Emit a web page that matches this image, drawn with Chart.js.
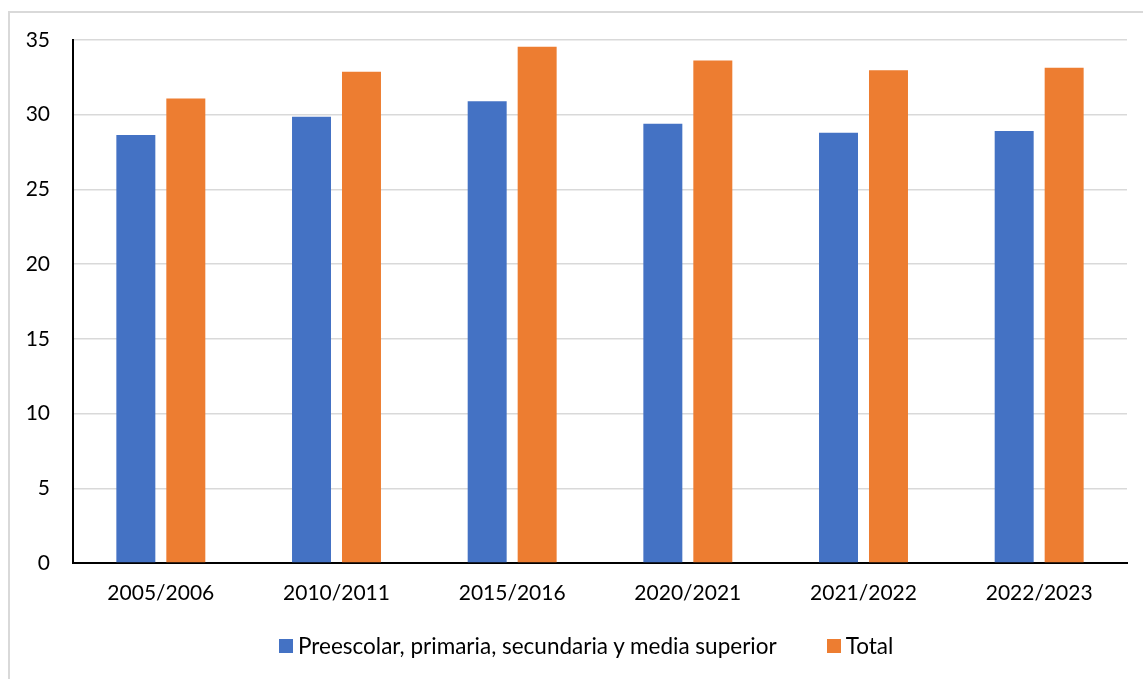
<!DOCTYPE html>
<html>
<head>
<meta charset="utf-8">
<script src="https://cdn.jsdelivr.net/npm/chart.js@4"></script>
<style>
  html, body { margin: 0; padding: 0; background: #fff; overflow: hidden; }
  #frame { position: absolute; left: 8px; top: 11px; width: 1200px; height: 720px;
           border: 2px solid #d9d9d9; box-sizing: border-box; }
  #wrap { position: absolute; left: 0; top: 0; width: 1143px; height: 679px; }
  #legend { position: absolute; top: 632px; left: 279px; display: flex; align-items: center;
            font-family: Lato, "Open Sans", sans-serif; font-size: 22.5px; color: #000; white-space: nowrap; }
  .item { display: flex; align-items: center; }
  .swatch { width: 14px; height: 14px; margin-right: 5px; }
</style>
</head>
<body>
<div id="frame"></div>
<div id="wrap"><canvas id="chart" width="1143" height="679"></canvas></div>
<div id="legend"></div>
<script>
// School years on the horizontal axis
const categories = ['2005/2006', '2010/2011', '2015/2016', '2020/2021', '2021/2022', '2022/2023'];

// Series
const basicLabel = 'Preescolar, primaria, secundaria y media superior';
const basicValues = [28.65, 29.87, 30.90, 29.40, 28.80, 28.91];

const totalLabel = 'Total';
const totalValues = [31.08, 32.87, 34.54, 33.62, 32.97, 33.15];

// Value axis
const yMin = 0;
const yMax = 35;
const yStep = 5;

const BLUE = '#4472C4';
const ORANGE = '#ED7D31';
const FONT = 'Lato, "Open Sans", sans-serif';

const datasets = [
  { label: basicLabel, data: basicValues, backgroundColor: BLUE },
  { label: totalLabel, data: totalValues, backgroundColor: ORANGE }
];

new Chart(document.getElementById('chart'), {
  type: 'bar',
  data: { labels: categories, datasets: datasets },
  options: {
    responsive: false,
    animation: false,
    devicePixelRatio: 1,
    datasets: { bar: { categoryPercentage: 0.569, barPercentage: 0.78 } },
    layout: { padding: { left: 0, top: 40, right: 16, bottom: 66 } },
    plugins: { legend: { display: false }, tooltip: { enabled: false } },
    scales: {
      x: {
        grid: { display: false, drawTicks: false },
        border: { display: true, color: '#000', width: 2 },
        ticks: { color: '#000', font: { family: FONT, size: 21 }, padding: 18, maxRotation: 0 },
        afterFit: (scale) => { scale.height = 50; }
      },
      y: {
        min: yMin, max: yMax,
        grid: { color: '#d9d9d9', lineWidth: 1.5, drawTicks: false },
        border: { display: true, color: '#000', width: 2 },
        ticks: { stepSize: yStep, color: '#000', font: { family: FONT, size: 21 }, padding: 23 },
        afterFit: (scale) => { scale.width = 73; }
      }
    }
  }
});

// Legend row built from the same datasets
const legend = document.getElementById('legend');
datasets.forEach((ds, i) => {
  const item = document.createElement('div');
  item.className = 'item';
  if (i > 0) item.style.marginLeft = '50px';
  const sw = document.createElement('span');
  sw.className = 'swatch';
  sw.style.background = ds.backgroundColor;
  const tx = document.createElement('span');
  tx.textContent = ds.label;
  item.appendChild(sw);
  item.appendChild(tx);
  legend.appendChild(item);
});
</script>
</body>
</html>
